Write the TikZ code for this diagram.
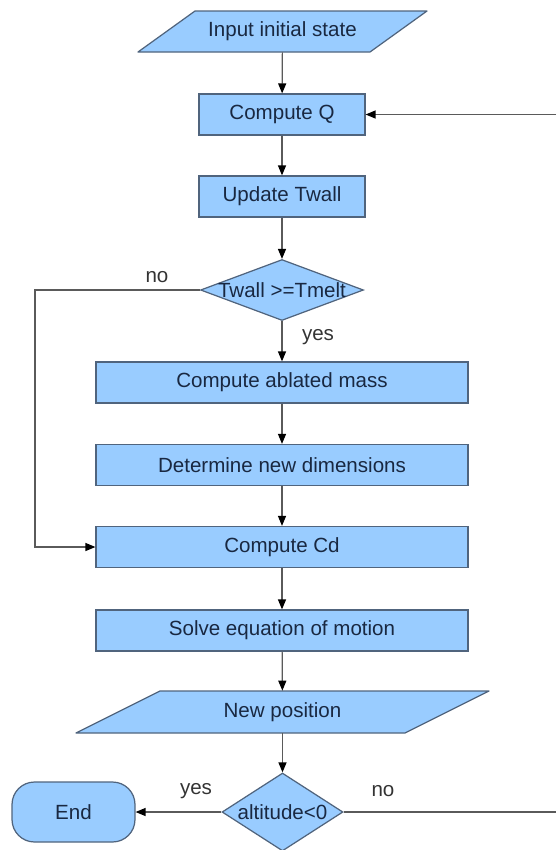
\documentclass[tikz,border=0pt]{standalone}
\usepackage{fontspec}
\setmainfont{Liberation Sans}
\usetikzlibrary{shapes.geometric,arrows.meta}

\definecolor{boxblue}{RGB}{153,204,255}
\definecolor{boxedge}{RGB}{80,100,125}
\definecolor{boxtext}{RGB}{25,40,65}
\definecolor{linegray}{RGB}{90,90,90}

\tikzset{
  procbox/.style={rectangle, draw=boxedge, fill=boxblue, line width=0.7pt, inner sep=0pt,
    text=boxtext, minimum height=0.82cm},
  iofill/.style={draw=boxedge, fill=boxblue, line width=0.7pt, line join=round},
  iotxt/.style={rectangle, inner sep=0pt, text=boxtext},
  decbox/.style={diamond, draw=boxedge, fill=boxblue, line width=0.7pt, inner sep=0pt},
  endbox/.style={rectangle, rounded corners=0.45cm, draw=boxedge, fill=boxblue,
    line width=0.7pt, inner sep=0pt, text=boxtext},
  boxlbl/.style={text=boxtext, inner sep=0pt},
  lbl/.style={text=black!80, inner sep=0pt},
  arr/.style={draw=linegray, line width=0.7pt, -{Triangle[length=2mm,width=1.6mm,color=black]}}
}

\begin{document}
\begin{tikzpicture}[x=0.02cm, y=-0.02cm, font=\fontsize{11.7}{14}\selectfont]
  \useasboundingbox (0,0) rectangle (556,850);

  % Input
  \draw[iofill] (138,52) -- (195,11) -- (427,11) -- (370,52) -- cycle;
  \node[iotxt, minimum width=4.64cm, minimum height=0.82cm] (inp) at (282.5,31.5) {Input initial state};

  % Heat loop
  \node[procbox, minimum width=3.32cm] (cq) at (282,114.5) {Compute Q};
  \node[procbox, minimum width=3.32cm] (uw) at (282,196.5) {Update Twall};
  \node[decbox, minimum width=3.26cm, minimum height=1.22cm] (tw) at (282,290) {};
  \node[boxlbl] (twtxt) at (tw) {Twall >=Tmelt};

  % Ablation
  \node[procbox, minimum width=7.44cm] (abl) at (282,382.5) {Compute ablated mass};
  \node[procbox, minimum width=7.44cm] (dim) at (282,465) {Determine new dimensions};
  \node[procbox, minimum width=7.44cm] (cd)  at (282,547) {Compute Cd};
  \node[procbox, minimum width=7.44cm] (sol) at (282,630.5) {Solve equation of motion};

  % New position
  \draw[iofill] (76,733) -- (160,691) -- (489,691) -- (405,733) -- cycle;
  \node[iotxt, minimum width=6.58cm, minimum height=0.84cm] (np) at (282.5,712) {New position};

  % Altitude check
  \node[decbox, minimum width=2.42cm, minimum height=1.56cm] (alt) at (282.5,812) {};
  \node[boxlbl] (alttxt) at (alt) {altitude<0};
  \node[endbox, minimum width=2.46cm, minimum height=1.2cm] (end) at (73.5,812) {End};

  % Free ends
  \coordinate (lft) at (35,290);
  \coordinate (rtop) at (556,114.5);
  \coordinate (rbot) at (556,812);

  % Connectors
  \foreach \a/\b in {inp/cq, cq/uw, uw/tw, tw/abl, abl/dim, dim/cd, cd/sol, sol/np, np/alt}
    \draw[arr] (\a) -- (\b);
  \draw[arr] (tw.west) -- (lft) |- (cd.west);
  \draw[arr] (rtop) -- (cq.east);
  \draw[arr] (alt.west) -- (end.east);
  \draw[draw=linegray, line width=0.7pt] (alt.east) -- (rbot);

  % Labels
  \node[lbl] (no1)  at (157,277) {no};
  \node[lbl] (yes1) at (318,337) {yes};
  \node[lbl] (yes2) at (196,791) {yes};
  \node[lbl] (no2)  at (383,791) {no};
\end{tikzpicture}
\end{document}
